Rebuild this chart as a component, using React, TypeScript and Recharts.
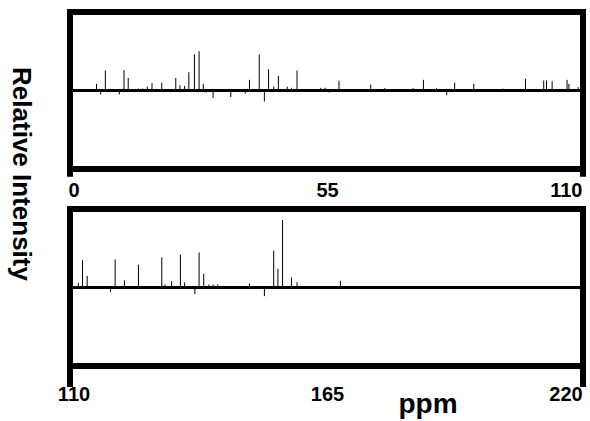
import { ComposedChart, Bar, XAxis, YAxis, ReferenceLine } from "recharts";

// 13C stick spectrum, 0-110 ppm
const lowPpm = [
  5.7, 6.6, 7.6, 10.6, 11.6, 12.5, 14.7, 15.6, 16.6, 17.6, 19.7, 22.7, 23.6, 24.6, 25.5, 26.7, 27.7, 28.6,
  29.2, 30.7, 34.5, 37.6, 38.5, 40.6, 41.7, 42.6, 43.7, 44.7, 46.6, 47.5, 48.7, 53.8, 54.7, 55.6, 57.7,
  64.5, 67.5, 73.6, 75.8, 78.6, 80.8, 82.5, 86.6, 92.8, 97.7, 101.6, 102.2, 103.4, 106.6, 107.0, 109.0,
];
const lowIntensity = [
  8.5, -5, 25.5, -5, 26, 16, 2.5, 2.5, 5, 9.3, 10, 16, 6.8, 6, 23.3, 46, 50, 8.5,
  -2.5, -9.8, -8.5, -4, 13.6, 46, -14, 27, 5, 18.7, 5, 3.4, 25.5, 3.4, 3.4, -2.5, 12.4,
  7.3, 3, 3, 13.6, 3, -6, 10, 8.5, 2.5, 15, 12.7, 12.7, 11.8, 13.6, 8.5, 4.2,
];

// 110-220 ppm
const highPpm = [
  111.7, 112.6, 113.6, 118.6, 119.6, 121.6, 124.6, 129.6, 130.3, 131.7, 133.6, 134.5, 136.7, 137.6,
  138.6, 139.7, 140.6, 141.6, 148.4, 151.6, 153.6, 154.5, 155.5, 157.4, 158.6, 167.9,
];
const highIntensity = [
  6, 34.8, 14.9, -5.5, 35.7, 9, 29, 38.2, 3.8, 8, 42, 6.4, -8.5, 44.6,
  17.5, 3.8, 3.8, 3.8, 5, -11, 47, 24, 86, 12.7, 6.8, 8.5,
];

const lowTicks = [0, 55, 110];
const highTicks = [110, 165, 220];

const lowData = lowPpm.map((ppm, i) => ({ ppm, intensity: lowIntensity[i] }));
const highData = highPpm.map((ppm, i) => ({ ppm, intensity: highIntensity[i] }));

const FONT = "'Liberation Sans', Arial, sans-serif";
const FULL = 100;

const Stick = (props: any) => {
  const { x, y, width, height } = props;
  const cx = x + width / 2;
  return <line x1={cx} x2={cx} y1={y} y2={y + height} stroke="#000" strokeWidth={1} />;
};

function makeTick(ticks: number[], dy: number) {
  return (props: any) => {
    const { x, y, payload } = props;
    const i = ticks.indexOf(payload.value);
    const dx = i === 0 ? 4 : i === ticks.length - 1 ? -12 : 1;
    return (
      <text x={x + dx} y={y} dy={dy} textAnchor="middle" fontFamily={FONT} fontWeight="bold" fontSize={20} fill="#000">
        {payload.value}
      </text>
    );
  };
}

function Panel({ data, ticks, top, height, marginTop, labelDy, ext }: any) {
  const lo = ticks[0];
  const hi = ticks[ticks.length - 1];
  const frame = { stroke: "#000", strokeWidth: 6, strokeLinecap: "square" as const, ifOverflow: "visible" as const };
  return (
    <div style={{ position: "absolute", left: 0, top }}>
      <ComposedChart width={590} height={height} data={data} margin={{ top: marginTop, right: 7, left: 70, bottom: 0 }}>
        <XAxis
          dataKey="ppm"
          type="number"
          domain={[lo, hi]}
          ticks={ticks}
          axisLine={false}
          tickLine={false}
          tick={makeTick(ticks, labelDy)}
          height={height - marginTop - 157}
          allowDataOverflow
        />
        <YAxis type="number" domain={[-FULL, FULL]} hide allowDataOverflow />
        <ReferenceLine y={0} stroke="#000" strokeWidth={3} />
        <Bar dataKey="intensity" barSize={2} shape={<Stick />} isAnimationActive={false} />
        <ReferenceLine segment={[{ x: lo, y: FULL }, { x: hi, y: FULL }]} {...frame} />
        <ReferenceLine segment={[{ x: lo, y: -FULL }, { x: hi, y: -FULL }]} {...frame} />
        <ReferenceLine segment={[{ x: lo, y: FULL }, { x: lo, y: -FULL - ext }]} {...frame} />
        <ReferenceLine segment={[{ x: hi, y: FULL }, { x: hi, y: -FULL - ext }]} {...frame} />
      </ComposedChart>
    </div>
  );
}

export default function App() {
  return (
    <div style={{ position: "absolute", left: 0, top: 0, width: 590, height: 421, background: "#fff" }}>
      <Panel data={lowData} ticks={lowTicks} top={0} height={200} marginTop={12} labelDy={20} ext={6} />
      <Panel data={highData} ticks={highTicks} top={195} height={226} marginTop={14} labelDy={27} ext={23} />
      <svg width={590} height={421} style={{ position: "absolute", left: 0, top: 0, pointerEvents: "none" }}>
        <text
          x={22}
          y={174}
          transform="rotate(90 22 174)"
          textAnchor="middle"
          dominantBaseline="central"
          fontFamily={FONT}
          fontWeight="bold"
          fontSize={26}
          fill="#000"
        >
          Relative Intensity
        </text>
        <text x={428} y={413} textAnchor="middle" fontFamily={FONT} fontWeight="bold" fontSize={28} fill="#000">
          ppm
        </text>
      </svg>
    </div>
  );
}
